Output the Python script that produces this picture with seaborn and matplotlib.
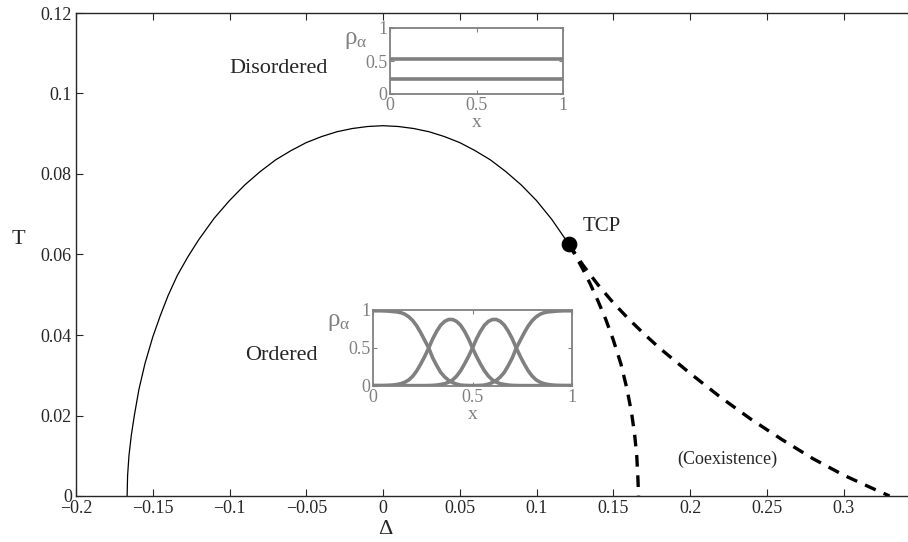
import matplotlib
matplotlib.use('Agg')
import matplotlib.pyplot as plt
import seaborn as sns

# phase boundary (solid)
delta_line = [-0.1667, -0.1664, -0.1655, -0.164, -0.162, -0.159, -0.155, -0.150, -0.145,
              -0.140, -0.134, -0.127, -0.12, -0.11, -0.10, -0.09, -0.08, -0.07, -0.06,
              -0.05, -0.04, -0.03, -0.02, -0.01, 0.0, 0.01, 0.02, 0.03, 0.04, 0.05,
              0.06, 0.07, 0.08, 0.09, 0.10, 0.11, 0.121]
t_line = [0.0, 0.005, 0.010, 0.015, 0.020, 0.0265, 0.033, 0.0395, 0.0449,
          0.0498, 0.0548, 0.0595, 0.0637, 0.0690, 0.0734, 0.0773, 0.0806, 0.0835, 0.0858,
          0.0878, 0.0893, 0.0905, 0.0913, 0.0918, 0.092, 0.0918, 0.0913, 0.0905, 0.0893, 0.0878,
          0.0858, 0.0835, 0.0806, 0.0773, 0.0734, 0.0687, 0.0626]

# first order lines (dashed)
delta_inner = [0.121, 0.125, 0.130, 0.135, 0.140, 0.145, 0.150, 0.155, 0.159, 0.162,
               0.164, 0.1653, 0.166, 0.1665]
t_inner = [0.0626, 0.060, 0.0565, 0.0527, 0.0485, 0.0440, 0.0388, 0.0328, 0.0265, 0.0205,
           0.0150, 0.010, 0.005, 0.0]

delta_outer = [0.121, 0.13, 0.14, 0.15, 0.16, 0.17, 0.18, 0.20, 0.22, 0.24, 0.26, 0.28,
               0.30, 0.32, 0.33]
t_outer = [0.0626, 0.0575, 0.0525, 0.0480, 0.0440, 0.0403, 0.0368, 0.0305, 0.0245, 0.0190,
           0.0140, 0.0093, 0.0052, 0.0017, 0.0]

tcp_delta = [0.121]
tcp_t = [0.0626]

# disordered profile (top inset)
x_dis = [0.0, 1.0]
rho_dis_1 = [0.53, 0.53]
rho_dis_2 = [0.23, 0.23]

# ordered profiles (bottom inset)
x_ord = [0.0, 0.02, 0.04, 0.06, 0.08, 0.10, 0.12, 0.14, 0.16, 0.18, 0.20, 0.22, 0.24,
         0.26, 0.28, 0.30, 0.32, 0.34, 0.36, 0.38, 0.40, 0.42, 0.44, 0.46, 0.48, 0.50,
         0.52, 0.54, 0.56, 0.58, 0.60, 0.62, 0.64, 0.66, 0.68, 0.70, 0.72, 0.74, 0.76,
         0.78, 0.80, 0.82, 0.84, 0.86, 0.88, 0.90, 0.92, 0.94, 0.96, 0.98, 1.0]
rho_a = [0.99, 0.99, 0.99, 0.988, 0.985, 0.98, 0.975, 0.965, 0.945, 0.91, 0.86, 0.79, 0.70,
         0.60, 0.50, 0.37, 0.27, 0.18, 0.12, 0.075, 0.045, 0.025, 0.012, 0.008, 0.006, 0.005,
         0.006, 0.008, 0.012, 0.025, 0.045, 0.075, 0.12, 0.18, 0.27, 0.37, 0.50, 0.60, 0.70,
         0.79, 0.86, 0.91, 0.945, 0.965, 0.975, 0.98, 0.985, 0.988, 0.99, 0.99, 0.99]
rho_b = [0.005, 0.005, 0.005, 0.006, 0.008, 0.012, 0.02, 0.03, 0.05, 0.08, 0.13, 0.20, 0.29,
         0.39, 0.50, 0.62, 0.72, 0.80, 0.85, 0.875, 0.875, 0.85, 0.80, 0.72, 0.62, 0.50,
         0.39, 0.29, 0.20, 0.13, 0.08, 0.05, 0.03, 0.02, 0.012, 0.008, 0.006, 0.005, 0.005,
         0.005, 0.005, 0.005, 0.005, 0.005, 0.005, 0.005, 0.005, 0.005, 0.005, 0.005, 0.005]
rho_c = [0.005, 0.005, 0.005, 0.005, 0.005, 0.005, 0.005, 0.005, 0.005, 0.005, 0.005, 0.005, 0.005,
         0.005, 0.006, 0.008, 0.012, 0.02, 0.03, 0.05, 0.08, 0.13, 0.20, 0.29, 0.39, 0.50,
         0.62, 0.72, 0.80, 0.85, 0.875, 0.875, 0.85, 0.80, 0.72, 0.62, 0.50, 0.39, 0.29,
         0.20, 0.13, 0.08, 0.05, 0.03, 0.02, 0.012, 0.008, 0.006, 0.005, 0.005, 0.005]

sns.set_style('ticks')
plt.rcParams['font.family'] = ['Liberation Serif', 'DejaVu Serif']
plt.rcParams['mathtext.fontset'] = 'custom'
plt.rcParams['mathtext.rm'] = 'Liberation Serif'
plt.rcParams['xtick.direction'] = 'in'
plt.rcParams['ytick.direction'] = 'in'

W, H = 908, 542
fig = plt.figure(figsize=(W / 100, H / 100), dpi=100)

# main axes: right edge runs past the figure like the original crop
ax = fig.add_axes([76 / W, (H - 496) / H, 844.25 / W, 483 / H])
sns.lineplot(x=delta_line, y=t_line, ax=ax, color='black', lw=0.9, sort=False)
for dx, ty in [(delta_inner, t_inner), (delta_outer, t_outer)]:
    sns.lineplot(x=dx, y=ty, ax=ax, color='black', lw=2.4, sort=False,
                 linestyle=(0, (3.5, 2.6)))
sns.scatterplot(x=tcp_delta, y=tcp_t, ax=ax, color='black', s=110, zorder=5, edgecolor='black')

ax.set_xlim(-0.2, 0.35)
ax.set_ylim(0, 0.12)
ax.set_xticks([-0.2, -0.15, -0.1, -0.05, 0, 0.05, 0.1, 0.15, 0.2, 0.25, 0.3])
ax.set_xticklabels(['\u22120.2', '\u22120.15', '\u22120.1', '\u22120.05', '0', '0.05',
                    '0.1', '0.15', '0.2', '0.25', '0.3'])
ax.set_yticks([0, 0.02, 0.04, 0.06, 0.08, 0.1, 0.12])
ax.set_yticklabels(['0', '0.02', '0.04', '0.06', '0.08', '0.1', '0.12'])
ax.tick_params(top=True, right=True, length=5, width=0.8, labelsize=13, pad=3)
for s in ax.spines.values():
    s.set_linewidth(1.0)

ax.text(-0.068, 0.1063, 'Disordered', fontsize=16, ha='center', va='center')
ax.text(-0.0665, 0.035, 'Ordered', fontsize=16, ha='center', va='center')
ax.text(0.130, 0.067, 'TCP', fontsize=15, ha='left', va='center')
ax.text(0.224, 0.0092, '(Coexistence)', fontsize=13, ha='center', va='center')

fig.text(18 / W, 1 - 240 / H, 'T', fontsize=16, ha='center', va='center')
fig.text(385 / W, 1 - 530 / H, '\u0394', fontsize=16, ha='center', va='center')

gray = '#808080'


def style_inset(a, ylab_xy):
    a.set_xlim(0, 1)
    a.set_ylim(0, 1)
    a.set_xticks([0, 0.5, 1])
    a.set_xticklabels(['0', '0.5', '1'])
    a.set_yticks([0, 0.5, 1])
    a.set_yticklabels(['0', '0.5', '1'])
    a.tick_params(top=True, right=True, length=3, width=0.8, colors=gray,
                  labelsize=13, pad=2)
    for s in a.spines.values():
        s.set_color(gray)
        s.set_linewidth(1.3)
    a.set_xlabel('x', color=gray, fontsize=14, labelpad=0)
    a.set_ylabel('')
    a.text(ylab_xy[0], ylab_xy[1], r'$\mathregular{\rho_{\alpha}}$', color=gray,
           fontsize=18, ha='center', va='center', transform=a.transAxes)


ins1 = fig.add_axes([390 / W, (H - 94) / H, 173 / W, 66 / H])
for r in [rho_dis_1, rho_dis_2]:
    sns.lineplot(x=x_dis, y=r, ax=ins1, color=gray, lw=2.6, sort=False)
style_inset(ins1, (-0.2, 0.82))

ins2 = fig.add_axes([373 / W, (H - 386) / H, 199 / W, 76 / H])
for r in [rho_a, rho_b, rho_c]:
    sns.lineplot(x=x_ord, y=r, ax=ins2, color=gray, lw=2.6, sort=False)
style_inset(ins2, (-0.17, 0.84))

fig.savefig('out.png', dpi=100)
